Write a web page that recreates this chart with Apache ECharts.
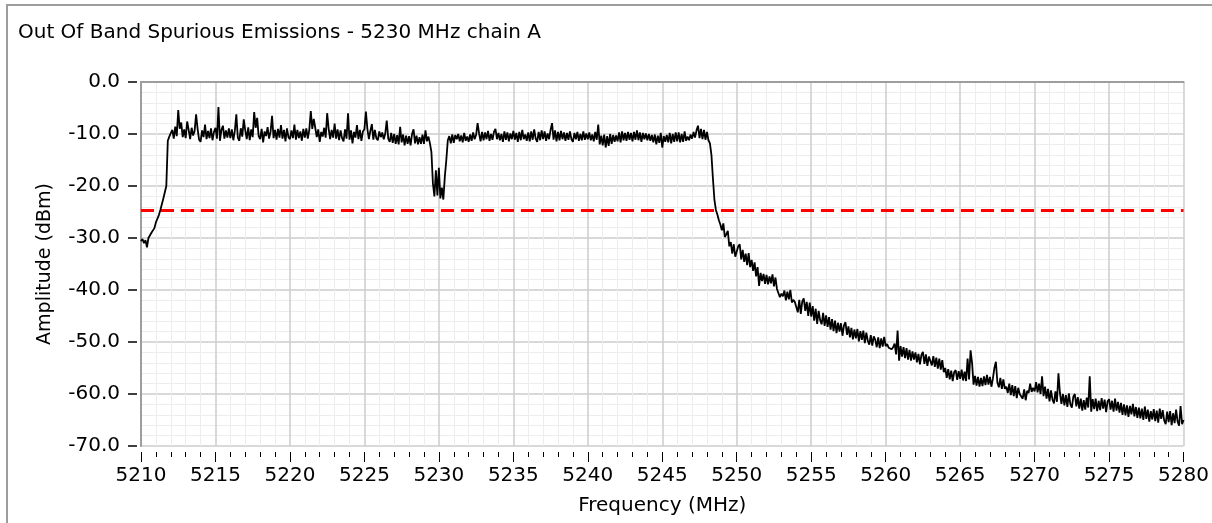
<!DOCTYPE html>
<html>
<head>
<meta charset="utf-8">
<script src="https://cdn.jsdelivr.net/npm/echarts@6/dist/echarts.min.js"></script>
<style>
html,body{margin:0;padding:0;background:#fff;}
#chart{width:1212px;height:523px;}
</style>
</head>
<body>
<div id="chart"></div>
<script>
const chartTitle = 'Out Of Band Spurious Emissions - 5230 MHz chain A';
const xAxisName = 'Frequency (MHz)';
const yAxisName = 'Amplitude (dBm)';
const freqStart = 5210;
const freqStep = 0.1;
const freqMin = 5210, freqMax = 5280, freqInterval = 5;
const ampMin = -70, ampMax = 0, ampInterval = 10;
const limitDbm = -24.7;
// amplitude trace, one value per 0.1 MHz from 5210.0 to 5280.0
const amplitude = [
-30.6,-30.2,-31.0,-30.4,-31.8,-30.0,-29.8,-29.0,-28.8,-28.1,
-27.0,-26.3,-25.6,-24.6,-23.5,-22.4,-21.2,-20.0,-11.3,-10.5,
-10.3,-9.2,-10.9,-8.6,-10.4,-5.4,-9.0,-7.8,-10.6,-9.1,
-10.8,-7.6,-9.2,-11.0,-8.8,-10.3,-9.4,-6.2,-9.0,-11.1,
-11.5,-9.3,-10.6,-8.2,-11.0,-9.4,-10.8,-8.9,-11.2,-9.6,
-8.8,-10.9,-4.8,-11.3,-9.2,-8.4,-10.9,-9.3,-10.7,-8.9,
-10.8,-9.1,-11.2,-9.4,-6.2,-10.7,-11.3,-8.9,-10.5,-7.2,
-9.3,-11.0,-8.7,-11.2,-9.1,-10.6,-5.8,-8.8,-6.9,-10.4,
-11.0,-9.0,-11.6,-9.5,-10.4,-8.7,-10.9,-9.6,-6.5,-10.8,
-9.2,-11.1,-9.0,-10.7,-8.3,-10.9,-9.2,-11.4,-8.9,-10.6,
-11.0,-9.3,-10.8,-8.2,-11.1,-9.2,-10.8,-9.5,-11.3,-9.0,
-10.7,-8.9,-10.9,-9.2,-5.6,-9.0,-7.1,-8.8,-10.6,-9.1,
-11.5,-9.6,-10.5,-8.8,-10.7,-6.0,-9.0,-11.0,-9.2,-10.7,
-8.0,-10.9,-9.1,-11.2,-9.3,-10.8,-11.4,-9.1,-10.9,-6.0,
-11.1,-9.3,-11.8,-9.6,-10.7,-8.3,-11.0,-9.2,-11.3,-9.5,
-9.1,-5.7,-9.0,-11.0,-9.4,-8.1,-11.1,-9.2,-10.8,-11.2,
-9.5,-10.6,-9.7,-11.0,-9.9,-7.4,-10.9,-11.5,-9.8,-11.7,
-10.0,-11.9,-10.2,-12.0,-8.6,-11.6,-10.1,-12.2,-10.3,-11.9,
-10.4,-12.2,-10.0,-9.1,-11.8,-10.3,-12.0,-10.6,-11.9,-10.1,
-11.9,-9.3,-11.4,-10.5,-11.8,-13.5,-19.5,-22.0,-17.0,-21.8,
-16.5,-22.4,-20.3,-22.6,-18.2,-15.0,-11.2,-10.4,-11.8,-10.1,
-11.7,-10.2,-11.0,-10.0,-11.4,-10.3,-11.6,-9.8,-11.3,-10.5,
-11.5,-10.1,-11.3,-9.7,-11.0,-10.2,-7.9,-9.9,-11.4,-9.6,
-11.2,-9.7,-11.0,-9.4,-11.3,-10.0,-11.1,-9.6,-9.0,-11.0,
-9.8,-11.2,-10.0,-11.5,-9.5,-11.1,-9.7,-11.4,-9.9,-11.0,
-9.4,-11.1,-9.8,-11.5,-9.6,-11.2,-9.2,-11.0,-10.1,-11.3,
-9.7,-11.4,-9.5,-11.1,-9.1,-10.9,-11.5,-9.6,-11.2,-9.3,
-11.0,-9.5,-11.3,-9.9,-11.0,-9.2,-7.9,-11.1,-9.3,-11.4,
-9.6,-11.2,-9.4,-11.0,-9.7,-11.3,-9.8,-11.1,-9.5,-11.0,
-11.5,-9.8,-11.0,-9.6,-11.3,-10.0,-11.2,-9.5,-11.1,-9.9,
-11.0,-9.7,-11.2,-10.1,-11.4,-9.6,-11.1,-8.2,-12.0,-10.3,
-12.2,-10.1,-12.6,-10.4,-12.3,-10.0,-11.9,-10.2,-11.5,-10.3,
-11.4,-9.7,-11.6,-9.5,-11.2,-9.8,-11.3,-9.6,-11.1,-9.8,
-11.4,-9.6,-11.1,-9.3,-11.2,-9.7,-11.5,-9.8,-11.0,-9.9,
-11.2,-10.0,-11.3,-10.2,-11.6,-10.1,-12.0,-10.3,-11.7,-9.8,
-12.6,-10.4,-11.5,-10.2,-11.6,-9.8,-11.8,-10.0,-11.5,-9.7,
-11.4,-9.7,-11.6,-10.0,-11.5,-9.5,-11.3,-10.5,-11.2,-10.1,
-10.9,-9.6,-10.7,-9.3,-8.4,-10.8,-9.0,-11.0,-9.2,-11.1,
-9.6,-11.2,-11.8,-14.0,-18.5,-22.6,-24.6,-25.5,-26.6,-27.4,
-28.5,-27.2,-29.8,-29.3,-28.6,-31.6,-30.8,-33.0,-31.2,-33.6,
-33.9,-31.6,-31.2,-34.1,-32.3,-34.6,-33.0,-35.2,-32.9,-35.6,
-34.2,-36.3,-34.7,-37.4,-35.6,-39.2,-36.7,-38.3,-36.9,-38.8,
-37.1,-38.9,-37.4,-38.7,-37.0,-39.3,-37.6,-39.8,-40.0,-41.4,
-40.7,-41.2,-40.1,-42.0,-40.3,-41.8,-40.0,-42.4,-41.9,-42.3,
-42.3,-44.3,-41.9,-44.6,-42.2,-41.6,-44.0,-42.3,-45.0,-42.4,
-45.1,-43.1,-45.9,-43.6,-46.5,-44.0,-45.8,-46.6,-44.4,-46.9,
-44.9,-47.1,-45.2,-47.6,-45.6,-47.9,-45.9,-48.3,-46.3,-48.0,
-46.4,-48.8,-46.8,-46.2,-48.6,-47.0,-49.1,-47.3,-49.5,-47.6,
-49.3,-47.5,-49.9,-47.9,-49.6,-47.8,-50.2,-48.2,-49.8,-50.5,
-48.7,-50.7,-48.9,-49.6,-51.0,-49.1,-51.2,-49.3,-50.9,-49.0,
-50.8,-50.4,-51.1,-50.8,-51.4,-51.0,-50.3,-52.4,-47.8,-53.6,
-50.8,-52.8,-51.0,-53.1,-51.2,-53.4,-51.5,-53.6,-51.8,-53.4,
-52.0,-53.9,-52.3,-54.3,-52.5,-51.9,-54.2,-52.4,-54.6,-52.8,
-52.5,-54.5,-52.7,-54.8,-53.0,-55.1,-53.2,-55.3,-53.5,-55.8,
-55.0,-56.9,-55.2,-57.2,-55.5,-57.5,-55.8,-55.4,-57.3,-55.6,
-57.1,-55.3,-57.4,-55.7,-57.5,-53.2,-57.2,-51.6,-54.0,-58.2,
-56.5,-58.4,-56.7,-58.6,-56.9,-58.5,-56.6,-58.3,-56.3,-58.2,
-56.7,-58.6,-57.0,-55.0,-53.8,-57.8,-58.7,-56.9,-59.0,-57.2,
-59.0,-58.6,-59.8,-58.0,-60.2,-58.3,-60.4,-58.5,-60.8,-58.8,
-60.0,-59.8,-60.9,-59.1,-61.2,-59.4,-59.8,-58.0,-59.6,-58.8,
-59.5,-57.7,-59.7,-58.0,-60.0,-56.6,-60.4,-58.6,-60.9,-59.0,
-61.4,-59.3,-61.1,-61.8,-59.5,-61.5,-56.0,-59.8,-61.9,-60.0,
-62.2,-60.2,-62.5,-59.9,-62.0,-62.6,-60.5,-60.0,-62.4,-60.6,
-62.8,-60.9,-63.2,-61.2,-63.0,-60.7,-62.6,-56.6,-63.4,-61.0,
-62.9,-60.9,-63.3,-61.3,-63.1,-60.8,-62.8,-61.1,-63.5,-61.4,
-61.0,-63.0,-61.3,-63.4,-60.9,-63.2,-61.5,-63.6,-61.7,-64.0,
-62.0,-64.1,-62.2,-64.4,-62.3,-63.9,-61.9,-64.3,-62.5,-64.6,
-62.6,-64.7,-62.8,-65.0,-62.4,-64.8,-63.0,-65.3,-63.3,-64.9,
-62.9,-65.2,-63.2,-65.5,-62.8,-64.8,-63.1,-65.1,-65.8,-63.4,
-65.4,-63.3,-66.0,-63.7,-65.6,-63.0,-65.3,-66.1,-62.3,-65.8,
-65.0
];

const FONT = 'DejaVu Sans';
const traceData = amplitude.map((v, i) => [Number((freqStart + i * freqStep).toFixed(1)), v]);
const limitData = [[freqMin, limitDbm], [freqMax, limitDbm]];

const chart = echarts.init(document.getElementById('chart'), null, {renderer: 'canvas'});
chart.setOption({
  animation: false,
  backgroundColor: '#ffffff',
  title: {
    text: chartTitle,
    left: 13,
    top: 18,
    textStyle: {fontFamily: FONT, fontSize: 20, fontWeight: 'normal', color: '#000'}
  },
  graphic: [{
    type: 'rect',
    shape: {x: 7, y: 5, width: 1230, height: 540},
    style: {fill: 'none', stroke: '#9d9d9d', lineWidth: 2},
    silent: true, z: -1
  }],
  grid: {left: 141, right: 25, top: 82, bottom: 77, containLabel: false},
  xAxis: [{
    type: 'value', min: freqMin, max: freqMax, interval: freqInterval,
    position: 'bottom', offset: 6,
    name: xAxisName, nameLocation: 'middle', nameGap: 44,
    nameTextStyle: {fontFamily: FONT, fontSize: 20, color: '#000'},
    axisLine: {show: false, onZero: false},
    axisTick: {show: true, inside: false, length: 10, lineStyle: {color: '#000', width: 1}},
    minorTick: {show: true, splitNumber: 5, length: 5, lineStyle: {color: '#000', width: 1}},
    axisLabel: {show: true, margin: 14, fontFamily: FONT, fontSize: 20, color: '#000', formatter: v => String(v)},
    splitLine: {show: true, lineStyle: {color: '#cdcdcd', width: 1.5}},
    minorSplitLine: {show: true, lineStyle: {color: '#ededed', width: 1}}
  }, {
    type: 'value', min: freqMin, max: freqMax, interval: freqInterval,
    position: 'top',
    axisLine: {show: true, onZero: false, lineStyle: {color: '#9d9d9d', width: 2}},
    axisTick: {show: false}, minorTick: {show: false}, axisLabel: {show: false}, splitLine: {show: false}
  }],
  yAxis: [{
    type: 'value', min: ampMin, max: ampMax, interval: ampInterval,
    position: 'left', offset: 4,
    name: yAxisName, nameLocation: 'middle', nameGap: 82, nameRotate: 90,
    nameTextStyle: {fontFamily: FONT, fontSize: 19, color: '#000'},
    axisLine: {show: false, onZero: false},
    axisTick: {show: true, inside: false, length: 9, lineStyle: {color: '#000', width: 1.5}},
    axisLabel: {show: true, margin: 17, fontFamily: FONT, fontSize: 20, color: '#000', formatter: v => v.toFixed(1)},
    splitLine: {show: true, lineStyle: {color: '#cdcdcd', width: 1.5}},
    minorTick: {show: false, splitNumber: 5},
    minorSplitLine: {show: true, lineStyle: {color: '#ededed', width: 1}}
  }, {
    type: 'value', min: ampMin, max: ampMax, interval: ampInterval,
    position: 'left', offset: 0,
    axisLine: {show: true, onZero: false, lineStyle: {color: '#9d9d9d', width: 2}},
    axisTick: {show: false}, minorTick: {show: false}, axisLabel: {show: false}, splitLine: {show: false}
  }],
  series: [{
    type: 'line', name: 'limit', xAxisIndex: 0, yAxisIndex: 0,
    data: limitData, symbol: 'none', silent: true, z: 2,
    lineStyle: {color: '#ff0000', width: 3, type: [13, 7]}
  }, {
    type: 'line', name: 'trace', xAxisIndex: 0, yAxisIndex: 0,
    data: traceData, symbol: 'none', silent: true, z: 3,
    lineStyle: {color: '#000', width: 1.8}
  }]
});
</script>
</body>
</html>
